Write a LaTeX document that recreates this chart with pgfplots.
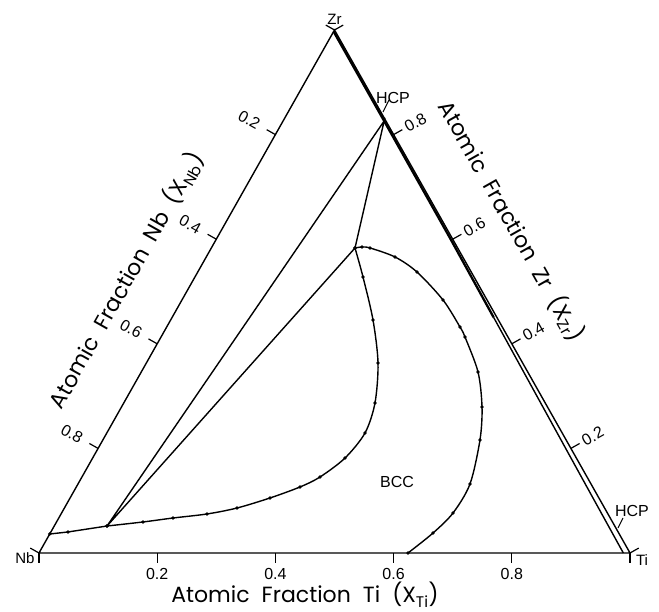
\documentclass[border=0pt]{standalone}
\usepackage{fontspec}
\setmainfont{Liberation Sans}
\newfontfamily\titlefont{Poppins}
\usepackage{pgfplots}
\usepackage{pgfplotstable}
\pgfplotsset{compat=1.18}

% ternary data: columns Ti, Zr (atomic fractions); Nb = 1 - Ti - Zr
\pgfplotstableread{
Ti Zr
0.000 0.0363
0.029 0.0402
0.0893 0.0516
}\leftpiece

\pgfplotstableread{
Ti Zr
0.0893 0.0516
0.1463 0.0593
0.1933 0.0669
0.2470 0.0746
0.2920 0.0860
0.3383 0.1052
0.3785 0.1262
0.4028 0.1453
0.4270 0.1816
0.4369 0.2294
0.4251 0.2868
0.3920 0.3633
0.3424 0.4455
0.2844 0.5277
0.2431 0.5832
}\lowerbranch

\pgfplotstableread{
Ti Zr
0.2431 0.5832
0.2540 0.5851
0.2685 0.5832
0.3194 0.5660
0.3709 0.5373
0.4418 0.4837
0.4963 0.4321
0.5143 0.4130
0.5698 0.3461
0.6100 0.2792
0.6381 0.2161
0.6633 0.1319
0.6623 0.0765
0.6476 0.0382
0.6244 0.0000
}\rightbranch

% HCP boundary near the Ti-Zr edge (upper, merged part)
\pgfplotstableread{
Ti Zr
0.0000 0.9970
0.1710 0.8260
0.3965 0.6000
0.5445 0.4500
}\hcpupper

% HCP boundary (lower, separated part)
\pgfplotstableread{
Ti Zr
0.5445 0.450
0.6925 0.300
0.8405 0.150
0.9887 0.000
}\hcplower

\pgfplotstableread{
Ti Zr
0.0893 0.0516
0.1710 0.8260
0.2431 0.5832
0.0893 0.0516
}\tietri

\pgfplotstableread{
Ti Zr
0 0
1 0
0 1
0 0
}\frame

\newcommand\tlab{\fontsize{16}{18}\selectfont}
\newcommand\ttl{\titlefont\fontsize{22}{25}\selectfont}
\newcommand\ws{\hspace{0.55em}}

\begin{document}
\begin{tikzpicture}
\begin{axis}[
  width=659pt, height=612pt, scale only axis,
  xmin=-0.06599, xmax=1.04907,
  ymin=-0.11281, ymax=1.05736,
  axis lines=none, clip=false,
  every axis plot/.append style={line width=1.4pt, black},
]
\path (rel axis cs:0,0) rectangle (rel axis cs:1,1);

\addplot[mark=none, line join=miter] table[x expr=\thisrow{Ti}+0.5*\thisrow{Zr}, y=Zr] {\frame};
\addplot[mark=none, line width=2.3pt] table[x expr=\thisrow{Ti}+0.5*\thisrow{Zr}, y=Zr] {\hcpupper};
\addplot[mark=none] table[x expr=\thisrow{Ti}+0.5*\thisrow{Zr}, y=Zr] {\hcplower};
\addplot[mark=none] table[x expr=\thisrow{Ti}+0.5*\thisrow{Zr}, y=Zr] {\tietri};
\addplot[mark=*, mark size=0.9pt] table[x expr=\thisrow{Ti}+0.5*\thisrow{Zr}, y=Zr] {\leftpiece};
\addplot[smooth, mark=*, mark size=0.9pt] table[x expr=\thisrow{Ti}+0.5*\thisrow{Zr}, y=Zr] {\lowerbranch};
\addplot[smooth, mark=*, mark size=0.9pt] table[x expr=\thisrow{Ti}+0.5*\thisrow{Zr}, y=Zr] {\rightbranch};

% bottom axis ticks (Ti)
\pgfplotsinvokeforeach{0,0.2,0.4,0.6,0.8,1}{\draw[line width=1.2pt] (axis cs:#1,0) -- ++(0pt,-10pt);}
\pgfplotsinvokeforeach{0.2,0.4,0.6,0.8}{\node[font=\tlab] at ([yshift=-21pt]axis cs:#1,0) {#1};}

% right axis ticks (Zr)
\draw[line width=1.2pt] (axis cs:1,0) -- ++(29.4:10pt);
\draw[line width=1.2pt] (axis cs:0.9,0.2) -- ++(29.4:10pt);
\draw[line width=1.2pt] (axis cs:0.8,0.4) -- ++(29.4:10pt);
\draw[line width=1.2pt] (axis cs:0.7,0.6) -- ++(29.4:10pt);
\draw[line width=1.2pt] (axis cs:0.6,0.8) -- ++(29.4:10pt);
\draw[line width=1.2pt] (axis cs:0.5,1) -- ++(29.4:10pt);
\node[font=\tlab, rotate=29.4] at ([shift={(29.4:25pt)}]axis cs:0.9,0.2) {0.2};
\node[font=\tlab, rotate=29.4] at ([shift={(29.4:25pt)}]axis cs:0.8,0.4) {0.4};
\node[font=\tlab, rotate=29.4] at ([shift={(29.4:25pt)}]axis cs:0.7,0.6) {0.6};
\node[font=\tlab, rotate=29.4] at ([shift={(29.4:25pt)}]axis cs:0.6,0.8) {0.8};

% left axis ticks (Nb)
\draw[line width=1.2pt] (axis cs:0,0) -- ++(150.6:10pt);
\draw[line width=1.2pt] (axis cs:0.1,0.2) -- ++(150.6:10pt);
\draw[line width=1.2pt] (axis cs:0.2,0.4) -- ++(150.6:10pt);
\draw[line width=1.2pt] (axis cs:0.3,0.6) -- ++(150.6:10pt);
\draw[line width=1.2pt] (axis cs:0.4,0.8) -- ++(150.6:10pt);
\draw[line width=1.2pt] (axis cs:0.5,1) -- ++(150.6:10pt);
\node[font=\tlab, rotate=-29.4] at ([shift={(150.6:30pt)}]axis cs:0.1,0.2) {0.8};
\node[font=\tlab, rotate=-29.4] at ([shift={(150.6:30pt)}]axis cs:0.2,0.4) {0.6};
\node[font=\tlab, rotate=-29.4] at ([shift={(150.6:30pt)}]axis cs:0.3,0.6) {0.4};
\node[font=\tlab, rotate=-29.4] at ([shift={(150.6:30pt)}]axis cs:0.4,0.8) {0.2};

% vertex labels
\node[font=\fontsize{15}{17}\selectfont] at ([yshift=11pt]axis cs:0.5,1) {Zr};
\node[font=\fontsize{15}{17}\selectfont] at ([shift={(-14pt,-5pt)}]axis cs:0,0) {Nb};
\node[font=\fontsize{15}{17}\selectfont] at ([shift={(12pt,-7pt)}]axis cs:1,0) {Ti};

% phase labels
\node[font=\tlab] at (axis cs:0.5990,0.8700) {HCP};
\draw[line width=1.0pt] (axis cs:0.582,0.843) -- (axis cs:0.5922,0.866);
\node[font=\tlab] at (axis cs:1.0034,0.0803) {HCP};
\draw[line width=1.0pt] (axis cs:0.9797,0.0478) -- (axis cs:0.9882,0.0669);
\node[font=\tlab] at (axis cs:0.6058,0.1358) {BCC};

% axis titles
\node[font=\ttl] at (axis cs:0.450,-0.0803) {Atomic\ws Fraction\ws Ti\ws (X\textsubscript{Ti})};
\node[font=\ttl, rotate=60.6] at (axis cs:0.1470,0.522) {Atomic\ws Fraction\ws Nb\ws (X\textsubscript{Nb})};
\node[font=\ttl, rotate=-60.6] at (axis cs:0.800,0.6348) {Atomic\ws Fraction\ws Zr\ws (X\textsubscript{Zr})};
\end{axis}
\end{tikzpicture}
\end{document}
